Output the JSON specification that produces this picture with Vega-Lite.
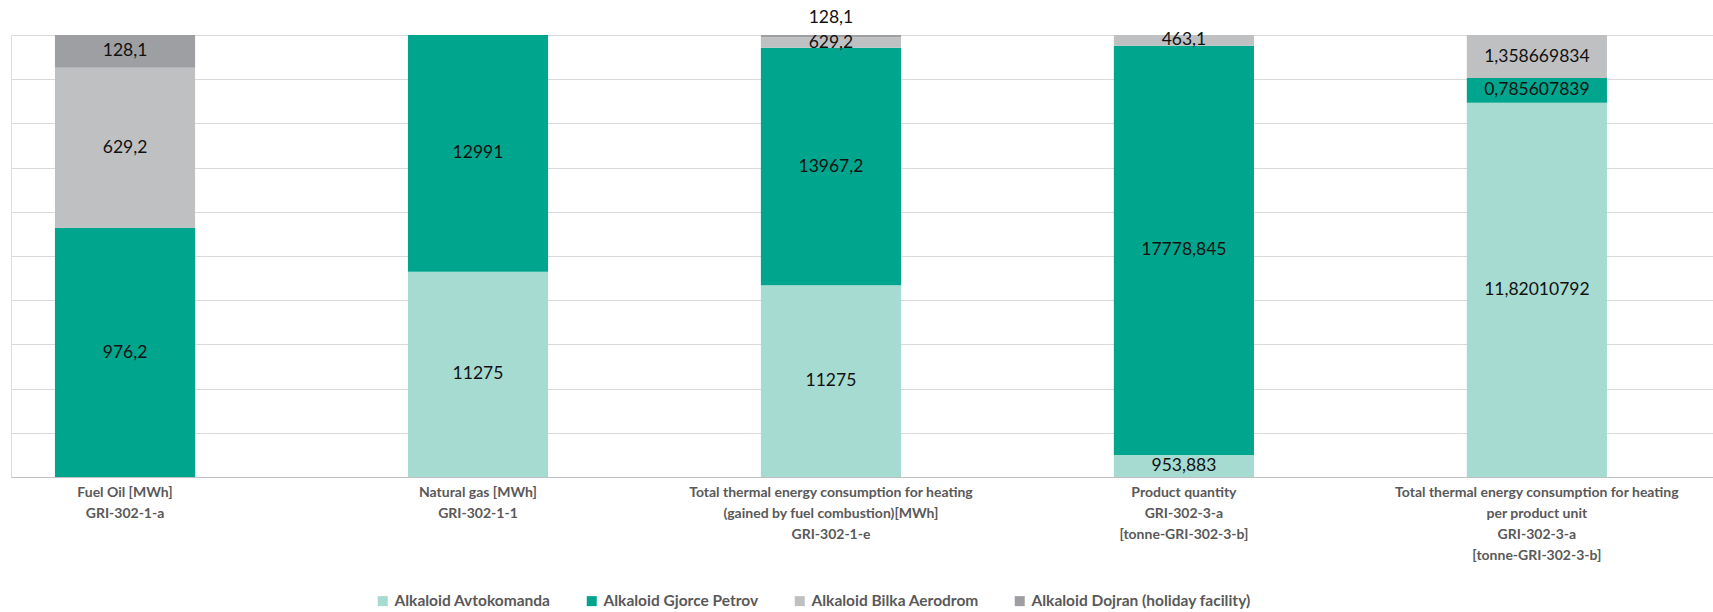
{
  "$schema": "https://vega.github.io/schema/vega-lite/v6.json",
  "width": 1702,
  "height": 442,
  "autosize": {"type": "none"},
  "padding": {"left": 11, "top": 35, "right": 0, "bottom": 135},
  "background": "white",
  "data": {
    "values": [
      {"category": "Fuel Oil [MWh]|GRI-302-1-a", "company": "Alkaloid Gjorce Petrov", "value": 976.2},
      {"category": "Fuel Oil [MWh]|GRI-302-1-a", "company": "Alkaloid Bilka Aerodrom", "value": 629.2},
      {"category": "Fuel Oil [MWh]|GRI-302-1-a", "company": "Alkaloid Dojran (holiday facility)", "value": 128.1},
      {"category": "Natural gas [MWh]|GRI-302-1-1", "company": "Alkaloid Avtokomanda", "value": 11275},
      {"category": "Natural gas [MWh]|GRI-302-1-1", "company": "Alkaloid Gjorce Petrov", "value": 12991},
      {"category": "Total thermal energy consumption for heating|(gained by fuel combustion)[MWh]|GRI-302-1-e", "company": "Alkaloid Avtokomanda", "value": 11275},
      {"category": "Total thermal energy consumption for heating|(gained by fuel combustion)[MWh]|GRI-302-1-e", "company": "Alkaloid Gjorce Petrov", "value": 13967.2},
      {"category": "Total thermal energy consumption for heating|(gained by fuel combustion)[MWh]|GRI-302-1-e", "company": "Alkaloid Bilka Aerodrom", "value": 629.2},
      {"category": "Total thermal energy consumption for heating|(gained by fuel combustion)[MWh]|GRI-302-1-e", "company": "Alkaloid Dojran (holiday facility)", "value": 128.1},
      {"category": "Product quantity|GRI-302-3-a|[tonne-GRI-302-3-b]", "company": "Alkaloid Avtokomanda", "value": 953.883},
      {"category": "Product quantity|GRI-302-3-a|[tonne-GRI-302-3-b]", "company": "Alkaloid Gjorce Petrov", "value": 17778.845},
      {"category": "Product quantity|GRI-302-3-a|[tonne-GRI-302-3-b]", "company": "Alkaloid Bilka Aerodrom", "value": 463.1},
      {"category": "Total thermal energy consumption for heating|per product unit|GRI-302-3-a|[tonne-GRI-302-3-b]", "company": "Alkaloid Avtokomanda", "value": 11.82010792},
      {"category": "Total thermal energy consumption for heating|per product unit|GRI-302-3-a|[tonne-GRI-302-3-b]", "company": "Alkaloid Gjorce Petrov", "value": 0.785607839},
      {"category": "Total thermal energy consumption for heating|per product unit|GRI-302-3-a|[tonne-GRI-302-3-b]", "company": "Alkaloid Bilka Aerodrom", "value": 1.358669834}
    ]
  },
  "transform": [
    {"calculate": "indexof(['Alkaloid Avtokomanda','Alkaloid Gjorce Petrov','Alkaloid Bilka Aerodrom','Alkaloid Dojran (holiday facility)'], datum.company)", "as": "rank"},
    {"stack": "value", "groupby": ["category"], "offset": "normalize", "sort": [{"field": "rank", "order": "ascending"}], "as": ["y0", "y1"]},
    {"calculate": "(datum.y0 + datum.y1) / 2", "as": "ymid"},
    {"calculate": "replace(format(datum.value, '.12~r'), '.', ',')", "as": "label"}
  ],
  "encoding": {
    "x": {
      "field": "category",
      "type": "nominal",
      "sort": null,
      "scale": {"paddingInner": 0.603, "paddingOuter": 0.2125, "align": 0.293},
      "axis": {
        "title": null,
        "labelAngle": 0,
        "labelExpr": "split(datum.label, '|')",
        "labelFont": "Lato",
        "labelFontWeight": "bold",
        "labelFontSize": 14,
        "labelColor": "#595959",
        "labelLineHeight": 21,
        "labelPadding": 8,
        "labelBaseline": "top",
        "labelLimit": 420,
        "ticks": false,
        "domainColor": "#BFBFBF",
        "domainWidth": 1.2,
        "grid": false
      }
    }
  },
  "layer": [
    {
      "mark": {"type": "bar"},
      "encoding": {
        "y": {
          "field": "y0",
          "type": "quantitative",
          "scale": {"domain": [0, 1], "nice": false},
          "axis": {
            "title": null,
            "labels": false,
            "ticks": false,
            "domain": false,
            "grid": true,
            "gridColor": "#D9D9D9",
            "gridWidth": 1.2,
            "values": [0, 0.1, 0.2, 0.3, 0.4, 0.5, 0.6, 0.7, 0.8, 0.9, 1]
          }
        },
        "y2": {"field": "y1"},
        "color": {
          "field": "company",
          "type": "nominal",
          "scale": {
            "domain": ["Alkaloid Avtokomanda", "Alkaloid Gjorce Petrov", "Alkaloid Bilka Aerodrom", "Alkaloid Dojran (holiday facility)"],
            "range": ["#A6DBD2", "#00A58E", "#BFC0C2", "#9E9FA2"]
          },
          "legend": {
            "title": null,
            "orient": "none",
            "legendX": 364,
            "legendY": 558,
            "direction": "horizontal",
            "columns": 4,
            "columnPadding": 33,
            "symbolType": "square",
            "symbolSize": 100,
            "symbolStrokeWidth": 0,
            "labelOffset": 4,
            "labelFont": "Lato",
            "labelFontWeight": "bold",
            "labelFontSize": 15.5,
            "labelColor": "#595959",
            "labelLimit": 400
          }
        }
      }
    },
    {
      "transform": [
        {"filter": "!(datum.company === 'Alkaloid Dojran (holiday facility)' && indexof(datum.category, 'gained') >= 0)"}
      ],
      "mark": {"type": "text", "font": "Lato", "fontSize": 17.5, "color": "#111111", "baseline": "middle", "align": "center"},
      "encoding": {
        "y": {"field": "ymid", "type": "quantitative"},
        "text": {"field": "label", "type": "nominal"}
      }
    },
    {
      "transform": [
        {"filter": "datum.company === 'Alkaloid Dojran (holiday facility)' && indexof(datum.category, 'gained') >= 0"}
      ],
      "mark": {"type": "text", "font": "Lato", "fontSize": 17.5, "color": "#111111", "baseline": "middle", "align": "center", "dy": -18},
      "encoding": {
        "y": {"field": "ymid", "type": "quantitative"},
        "text": {"field": "label", "type": "nominal"}
      }
    }
  ]
}
